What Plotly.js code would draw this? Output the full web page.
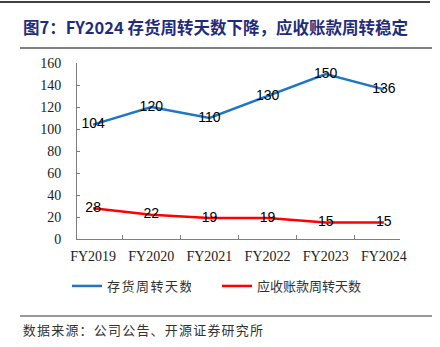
<!DOCTYPE html>
<html><head><meta charset="utf-8">
<script src="https://cdn.plot.ly/plotly-3.0.1.min.js"></script>
<style>html,body{margin:0;padding:0;background:#fff}#c{width:440px;height:347px}</style>
</head><body><div id="c"></div>
<script>
const categories = ['FY2019','FY2020','FY2021','FY2022','FY2023','FY2024'];
const inventoryDays = [104,120,110,130,150,136];
const receivableDays = [28,22,19,19,15,15];
const seriesNames = ['存货周转天数','应收账款周转天数'];
const titleText = '图7：FY2024 存货周转天数下降，应收账款周转稳定';
const sourceText = '数据来源：公司公告、开源证券研究所';

const L=77,R=400,T=63,B=239,W=440,H=347;
const px=x=>(x-L)/(R-L), py=y=>(B-y)/(B-T);
const cjk = '"Noto Sans CJK SC", sans-serif';
const serif = '"Liberation Serif", "Times New Roman", serif';

const traces = [
 {x:categories,y:inventoryDays,name:seriesNames[0],type:'scatter',mode:'lines+text',legend:'legend',
  line:{color:'#1F77C4',width:2.5},text:inventoryDays.map(String),textposition:'middle center',
  textfont:{family:'"Liberation Sans", Arial, sans-serif',size:14,color:'#000'},cliponaxis:false},
 {x:categories,y:receivableDays,name:seriesNames[1],type:'scatter',mode:'lines+text',legend:'legend2',
  line:{color:'#FF0000',width:2.5},text:receivableDays.map(String),textposition:'middle center',
  textfont:{family:'"Liberation Sans", Arial, sans-serif',size:14,color:'#000'},cliponaxis:false}
];
const legFont = {family:cjk,size:13,color:'#333'};
const layout = {
 width:W,height:H,margin:{l:L,r:W-R,t:T,b:H-B},paper_bgcolor:'#fff',plot_bgcolor:'#fff',
 showlegend:true,
 legend:{orientation:'h',x:px(67),y:py(271),xanchor:'left',yanchor:'top',font:legFont,itemwidth:30},
 legend2:{orientation:'h',x:px(217),y:py(271),xanchor:'left',yanchor:'top',font:legFont,itemwidth:30},
 xaxis:{type:'category',showline:true,linecolor:'#7f7f7f',linewidth:1,ticks:'inside',ticklen:4,
   tickcolor:'#7f7f7f',tickson:'boundaries',showgrid:false,zeroline:false,ticklabelstandoff:4,
   tickfont:{family:serif,size:14,color:'#222'},fixedrange:true},
 yaxis:{range:[0,160],dtick:20,showline:true,linecolor:'#7f7f7f',linewidth:1,ticks:'inside',ticklen:3,
   tickcolor:'#7f7f7f',showgrid:false,zeroline:false,tickfont:{family:serif,size:14,color:'#222'},ticklabelstandoff:12},
 shapes:[
  {type:'line',xref:'paper',yref:'paper',x0:px(0),x1:px(430),y0:py(2),y1:py(2),line:{color:'#000',width:1.5}},
  {type:'line',xref:'paper',yref:'paper',x0:px(20),x1:px(432),y0:py(48),y1:py(48),line:{color:'#808080',width:2}},
  {type:'line',xref:'paper',yref:'paper',x0:px(20),x1:px(432),y0:py(316),y1:py(316),line:{color:'#333',width:1}}
 ],
 annotations:[
  {text:'<b>'+titleText+'</b>',xref:'paper',yref:'paper',x:px(21),y:py(27),xanchor:'left',yanchor:'middle',
   showarrow:false,font:{family:cjk,size:16.5,color:'#1F2C7C'}},
  {text:sourceText,xref:'paper',yref:'paper',x:px(31),y:py(329),xanchor:'left',yanchor:'middle',
   showarrow:false,font:{family:cjk,size:13,color:'#333'}}
 ]
};
Plotly.newPlot('c',traces,layout,{displayModeBar:false,staticPlot:true}).then(function(){
  var a=document.querySelectorAll('.annotation-text');
  if(a[1]) a[1].style.letterSpacing='1.2px';
  document.querySelectorAll('.legendtext').forEach(function(t){t.style.letterSpacing='1.5px';});
});
</script></body></html>
